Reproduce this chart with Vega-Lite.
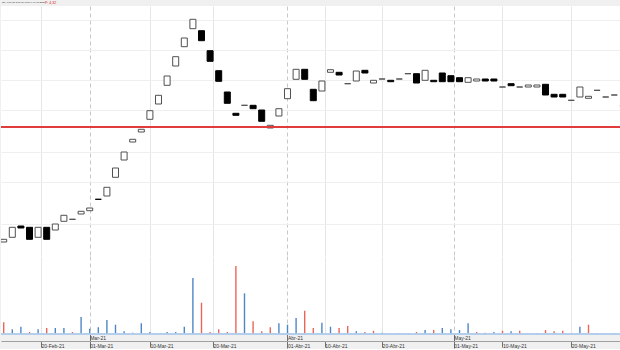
{
  "$schema": "https://vega.github.io/schema/vega-lite/v6.json",
  "background": "#f0f0f0",
  "padding": 0,
  "autosize": {"type": "pad"},
  "spacing": 0,
  "config": {
    "view": {"stroke": null, "fill": "white"},
    "axis": {"labelFont": "Liberation Sans", "titleFont": "Liberation Sans", "minExtent": 0}
  },
  "datasets": {
    "k": [
      {"i": 0, "o": 0.879, "c": 0.960, "dir": "up", "v": 11.7, "vs": "down"},
      {"i": 1, "o": 1.020, "c": 1.320, "dir": "up", "v": 4.7, "vs": "up"},
      {"i": 2, "o": 1.359, "c": 1.299, "dir": "down", "v": 7.3, "vs": "up"},
      {"i": 3, "o": 1.320, "c": 0.960, "dir": "down", "v": 2.0, "vs": "down"},
      {"i": 4, "o": 1.020, "c": 1.320, "dir": "up", "v": 4.7, "vs": "up"},
      {"i": 5, "o": 1.320, "c": 0.960, "dir": "down", "v": 6.0, "vs": "down"},
      {"i": 6, "o": 1.239, "c": 1.419, "dir": "up", "v": 6.0, "vs": "up"},
      {"i": 7, "o": 1.500, "c": 1.680, "dir": "up", "v": 6.0, "vs": "up"},
      {"i": 8, "o": 1.560, "c": 1.560, "dir": "up", "v": 2.0, "vs": "down"},
      {"i": 9, "o": 1.719, "c": 1.800, "dir": "up", "v": 17.0, "vs": "up"},
      {"i": 10, "o": 1.818, "c": 1.899, "dir": "up", "v": 5.3, "vs": "up"},
      {"i": 11, "o": 2.160, "c": 2.160, "dir": "down", "v": 6.7, "vs": "up"},
      {"i": 12, "o": 2.259, "c": 2.520, "dir": "up", "v": 14.0, "vs": "up"},
      {"i": 13, "o": 2.820, "c": 3.099, "dir": "up", "v": 9.3, "vs": "up"},
      {"i": 14, "o": 3.339, "c": 3.579, "dir": "up", "v": 2.7, "vs": "up"},
      {"i": 15, "o": 3.879, "c": 3.960, "dir": "up", "v": 1.3, "vs": "up"},
      {"i": 16, "o": 4.179, "c": 4.260, "dir": "up", "v": 10.7, "vs": "up"},
      {"i": 17, "o": 4.560, "c": 4.818, "dir": "up", "v": 2.0, "vs": "up"},
      {"i": 18, "o": 5.019, "c": 5.280, "dir": "up", "v": 1.0, "vs": "up"},
      {"i": 19, "o": 5.580, "c": 5.859, "dir": "up", "v": 2.0, "vs": "up"},
      {"i": 20, "o": 6.159, "c": 6.438, "dir": "up", "v": 2.0, "vs": "up"},
      {"i": 21, "o": 6.738, "c": 6.999, "dir": "up", "v": 7.3, "vs": "up"},
      {"i": 22, "o": 7.278, "c": 7.560, "dir": "up", "v": 56.0, "vs": "up"},
      {"i": 23, "o": 7.218, "c": 6.918, "dir": "down", "v": 31.3, "vs": "down"},
      {"i": 24, "o": 6.618, "c": 6.300, "dir": "down", "v": 2.0, "vs": "down"},
      {"i": 25, "o": 6.018, "c": 5.700, "dir": "down", "v": 4.7, "vs": "down"},
      {"i": 26, "o": 5.379, "c": 5.040, "dir": "down", "v": 2.0, "vs": "down"},
      {"i": 27, "o": 4.740, "c": 4.680, "dir": "down", "v": 68.0, "vs": "down"},
      {"i": 28, "o": 4.980, "c": 4.980, "dir": "up", "v": 40.7, "vs": "up"},
      {"i": 29, "o": 4.980, "c": 4.878, "dir": "down", "v": 12.7, "vs": "down"},
      {"i": 30, "o": 4.839, "c": 4.500, "dir": "down", "v": 2.7, "vs": "down"},
      {"i": 31, "o": 4.299, "c": 4.380, "dir": "up", "v": 6.7, "vs": "down"},
      {"i": 32, "o": 4.659, "c": 4.878, "dir": "up", "v": 10.7, "vs": "up"},
      {"i": 33, "o": 5.178, "c": 5.478, "dir": "up", "v": 9.3, "vs": "up"},
      {"i": 34, "o": 5.760, "c": 6.060, "dir": "up", "v": 16.0, "vs": "up"},
      {"i": 35, "o": 6.060, "c": 5.760, "dir": "down", "v": 23.3, "vs": "down"},
      {"i": 36, "o": 5.460, "c": 5.118, "dir": "down", "v": 6.0, "vs": "down"},
      {"i": 37, "o": 5.409, "c": 5.709, "dir": "up", "v": 11.3, "vs": "up"},
      {"i": 38, "o": 5.970, "c": 6.048, "dir": "up", "v": 7.3, "vs": "up"},
      {"i": 39, "o": 5.970, "c": 5.889, "dir": "down", "v": 6.0, "vs": "down"},
      {"i": 40, "o": 5.628, "c": 5.628, "dir": "up", "v": 8.0, "vs": "down"},
      {"i": 41, "o": 5.709, "c": 6.009, "dir": "up", "v": 2.7, "vs": "up"},
      {"i": 42, "o": 6.030, "c": 5.949, "dir": "down", "v": 2.0, "vs": "down"},
      {"i": 43, "o": 5.649, "c": 5.730, "dir": "up", "v": 3.3, "vs": "down"},
      {"i": 44, "o": 5.769, "c": 5.769, "dir": "up", "v": 1.3, "vs": "up"},
      {"i": 45, "o": 5.730, "c": 5.688, "dir": "down", "v": 1.0, "vs": "up"},
      {"i": 46, "o": 5.769, "c": 5.769, "dir": "up", "v": 1.0, "vs": "up"},
      {"i": 47, "o": 5.928, "c": 5.928, "dir": "up", "v": 1.0, "vs": "up"},
      {"i": 48, "o": 5.928, "c": 5.649, "dir": "down", "v": 2.0, "vs": "down"},
      {"i": 49, "o": 5.730, "c": 6.030, "dir": "up", "v": 4.0, "vs": "up"},
      {"i": 50, "o": 5.730, "c": 5.688, "dir": "down", "v": 4.0, "vs": "down"},
      {"i": 51, "o": 5.949, "c": 5.688, "dir": "down", "v": 6.0, "vs": "up"},
      {"i": 52, "o": 5.868, "c": 5.688, "dir": "down", "v": 4.7, "vs": "up"},
      {"i": 53, "o": 5.808, "c": 5.688, "dir": "down", "v": 4.0, "vs": "up"},
      {"i": 54, "o": 5.670, "c": 5.808, "dir": "up", "v": 10.7, "vs": "up"},
      {"i": 55, "o": 5.709, "c": 5.769, "dir": "up", "v": 2.0, "vs": "down"},
      {"i": 56, "o": 5.769, "c": 5.709, "dir": "down", "v": 1.3, "vs": "down"},
      {"i": 57, "o": 5.769, "c": 5.709, "dir": "down", "v": 2.0, "vs": "up"},
      {"i": 58, "o": 5.529, "c": 5.529, "dir": "up", "v": 3.3, "vs": "down"},
      {"i": 59, "o": 5.628, "c": 5.568, "dir": "down", "v": 2.7, "vs": "up"},
      {"i": 60, "o": 5.529, "c": 5.529, "dir": "up", "v": 3.3, "vs": "down"},
      {"i": 61, "o": 5.529, "c": 5.589, "dir": "up", "v": 1.0, "vs": "up"},
      {"i": 62, "o": 5.529, "c": 5.589, "dir": "up", "v": 1.0, "vs": "up"},
      {"i": 63, "o": 5.610, "c": 5.289, "dir": "down", "v": 4.0, "vs": "down"},
      {"i": 64, "o": 5.310, "c": 5.229, "dir": "down", "v": 2.7, "vs": "down"},
      {"i": 65, "o": 5.310, "c": 5.229, "dir": "down", "v": 3.3, "vs": "down"},
      {"i": 66, "o": 5.130, "c": 5.130, "dir": "up", "v": 1.0, "vs": "up"},
      {"i": 67, "o": 5.229, "c": 5.529, "dir": "up", "v": 7.3, "vs": "up"},
      {"i": 68, "o": 5.190, "c": 5.250, "dir": "up", "v": 9.3, "vs": "down"},
      {"i": 69, "o": 5.430, "c": 5.430, "dir": "up", "v": 1.0, "vs": "up"},
      {"i": 70, "o": 5.229, "c": 5.229, "dir": "up", "v": 0.7, "vs": "up"},
      {"i": 71, "o": 5.289, "c": 5.289, "dir": "up", "v": 1.0, "vs": "up"},
      {"i": 72, "o": 4.968, "c": 4.968, "dir": "up", "v": 1.0, "vs": "up"}
    ]
  },
  "vconcat": [
    {
      "width": 620,
      "height": 250,
      "data": {"name": "k"},
      "layer": [
        {
          "mark": {"type": "bar", "width": 6, "strokeWidth": 1, "clip": true},
          "encoding": {
            "x": {
              "field": "i", "type": "quantitative",
              "scale": {"domain": [-0.314, 71.78], "nice": false, "zero": false, "padding": 0},
              "axis": {
                "orient": "bottom", "labels": false, "ticks": false,
                "domain": true, "domainColor": "#8c8c8c", "domainWidth": 1,
                "grid": true,
                "values": [4.33, 10, 17, 24.33, 33, 37.33, 44, 52.33, 58, 66],
                "gridColor": {"condition": {"test": "datum.value==10||datum.value==33||datum.value==52.33", "value": "#c8c8c8"}, "value": "#e6e6e6"},
                "gridDash": {"condition": {"test": "datum.value==10||datum.value==33||datum.value==52.33", "value": [4, 3]}, "value": []},
                "title": "P: 4,32",
                "titleColor": "#e02020", "titleFontSize": 3.5, "titleFontWeight": "normal",
                "titleAlign": "left", "titleBaseline": "alphabetic", "titleAngle": 0,
                "titleX": 43.5, "titleY": -253
              }
            },
            "y": {
              "field": "o", "type": "quantitative",
              "scale": {"domain": [0.459, 7.959], "nice": false, "zero": false, "padding": 0},
              "axis": {
                "labels": false, "ticks": false, "domain": false,
                "grid": true, "gridColor": "#efefef",
                "values": [7.539, 6.639, 5.739, 4.839, 3.579, 2.679, 1.419],
                "title": "Dif.: 0,00 Mt: 3,00 mx: 3,00 F: 04-06-2021",
                "titleColor": "#222222", "titleFontSize": 2.3, "titleFontWeight": "normal",
                "titleAlign": "left", "titleBaseline": "alphabetic", "titleAngle": 0,
                "titleX": 0.7, "titleY": -3
              }
            },
            "y2": {"field": "c"},
            "fill": {"field": "dir", "type": "nominal", "scale": {"domain": ["up", "down"], "range": ["#ffffff", "#000000"]}, "legend": null},
            "stroke": {"field": "dir", "type": "nominal", "scale": {"domain": ["up", "down"], "range": ["#505050", "#000000"]}, "legend": null}
          }
        },
        {
          "mark": {"type": "rule", "color": "#e03c3c", "strokeWidth": 1},
          "encoding": {"y": {"datum": 4.32}}
        }
      ]
    },
    {
      "width": 620,
      "height": 78,
      "data": {"name": "k"},
      "resolve": {"axis": {"x": "independent"}},
      "layer": [
        {
          "mark": {"type": "bar", "width": 1.4, "clip": true},
          "encoding": {
            "x": {
              "field": "i", "type": "quantitative",
              "scale": {"domain": [-0.314, 71.78], "nice": false, "zero": false, "padding": 0},
              "axis": {
                "orient": "bottom", "title": null, "domain": false,
                "values": [4.33, 10, 17, 24.33, 33, 37.33, 44, 52.33, 58, 66],
                "grid": true,
                "gridColor": {"condition": {"test": "datum.value==10||datum.value==33||datum.value==52.33", "value": "#c8c8c8"}, "value": "#e6e6e6"},
                "gridDash": {"condition": {"test": "datum.value==10||datum.value==33||datum.value==52.33", "value": [4, 3]}, "value": []},
                "tickSize": 14, "tickColor": "#707070",
                "tickOpacity": {"condition": {"test": "datum.value==10||datum.value==33||datum.value==52.33", "value": 1}, "value": 0},
                "labelExpr": "datum.value==10?'Mar-21':datum.value==33?'Abr-21':datum.value==52.33?'May-21':''",
                "labelAlign": "left", "labelBaseline": "middle", "labelPadding": -10.5, "labelDx": 2,
                "labelFontSize": 5, "labelColor": "#333333",
                "labelOverlap": false, "labelBound": false, "labelFlush": false
              }
            },
            "y": {
              "field": "v", "type": "quantitative",
              "scale": {"domain": [0, 78], "nice": false, "padding": 0},
              "axis": {
                "title": null, "labels": false, "ticks": false, "domain": false,
                "grid": true, "gridColor": "#f0f0f0",
                "values": [11.7, 23.3, 35, 46.7, 58.3, 70]
              }
            },
            "color": {"field": "vs", "type": "nominal", "scale": {"domain": ["up", "down"], "range": ["#4f86c6", "#e8675a"]}, "legend": null}
          }
        },
        {
          "mark": {"type": "rule", "color": "#b4cdec", "strokeWidth": 1},
          "encoding": {"y": {"datum": -0.4}}
        },
        {
          "mark": {"type": "point", "opacity": 0, "size": 0, "strokeWidth": 0, "clip": true},
          "encoding": {
            "x": {
              "field": "i", "type": "quantitative",
              "axis": {
                "orient": "bottom", "title": null, "offset": 7,
                "domain": true, "domainColor": "#a0a0a0",
                "values": [4.33, 10, 17, 24.33, 33, 37.33, 44, 52.33, 58, 66],
                "grid": false,
                "tickSize": 6, "tickColor": "#707070",
                "labelExpr": "datum.value==4.33?'20-Feb-21':datum.value==10?'01-Mar-21':datum.value==17?'10-Mar-21':datum.value==24.33?'20-Mar-21':datum.value==33?'01-Abr-21':datum.value==37.33?'10-Abr-21':datum.value==44?'20-Abr-21':datum.value==52.33?'01-May-21':datum.value==58?'10-May-21':'20-May-21'",
                "labelAlign": "left", "labelBaseline": "middle", "labelPadding": -1.5, "labelDx": 2,
                "labelFontSize": 5, "labelColor": "#333333",
                "labelOverlap": false, "labelBound": false, "labelFlush": false
              }
            },
            "y": {"field": "v", "type": "quantitative", "axis": null}
          }
        }
      ]
    }
  ]
}
